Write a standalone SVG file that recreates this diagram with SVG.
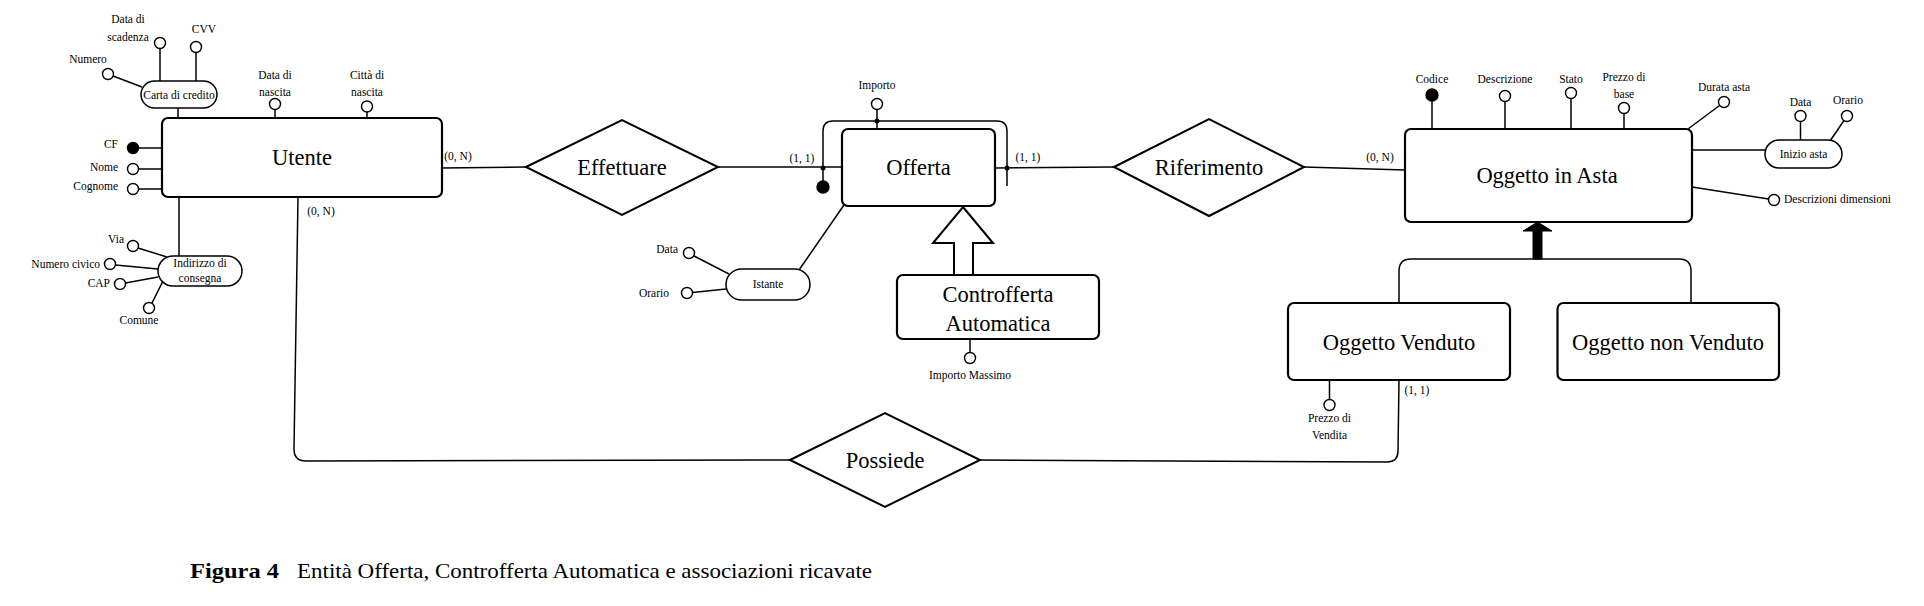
<svg xmlns="http://www.w3.org/2000/svg" width="1924" height="606" viewBox="0 0 1924 606">
<style>
text { font-family: "Liberation Serif", "Times New Roman", serif; fill: #000; }
.big { font-size: 22.5px; text-anchor: middle; dominant-baseline: central; }
.sm { font-size: 11.5px; dominant-baseline: central; }
.c { text-anchor: middle; }
.e { text-anchor: end; }
.ent { fill: #fff; stroke: #000; stroke-width: 2.2; }
.rel { fill: #fff; stroke: #000; stroke-width: 2; }
.att { fill: #fff; stroke: #000; stroke-width: 1.4; }
.key { fill: #000; stroke: #000; stroke-width: 1.4; }
.ln { fill: none; stroke: #000; stroke-width: 1.5; }
.pill { fill: #fff; stroke: #000; stroke-width: 1.5; }
.dot { fill: #000; }
</style>
<rect x="0" y="0" width="1924" height="606" fill="#fff"/>

<g id="connectors">
  <path class="ln" d="M442 168 L526 167"/>
  <path class="ln" d="M718 167 L842 167"/>
  <path class="ln" d="M995 168 L1114 167"/>
  <path class="ln" d="M1304 167 L1405 170"/>
  <path class="ln" d="M298 197 L294 449 Q294 461 306 461 L790 460"/>
  <path class="ln" d="M980 460 L1387 462 Q1398 462 1398 451 L1399 380"/>
  <path class="ln" d="M844 205 L799 270"/>
  <path class="ln" d="M823 181 L823 131 Q823 121 833 121 L997 121 Q1007 121 1007 131 L1007 186"/>
  <circle class="dot" cx="823" cy="168" r="2.5"/>
  <circle class="dot" cx="1007" cy="168" r="2.5"/>
  <circle class="dot" cx="877" cy="121" r="2.5"/>
  <path class="ln" d="M1399 303 L1399 271 Q1399 259 1411 259 L1679 259 Q1691 259 1691 271 L1691 303"/>
  <polygon points="1537.5,222 1552,231 1542,231 1542,259 1533,259 1533,231 1523,231" fill="#000" stroke="#000" stroke-width="1"/>
  <polygon points="963,207 993,243 973,243 973,275 954,275 954,243 933,243" fill="#fff" stroke="#000" stroke-width="2"/>
  <!-- attribute stems -->
  <path class="ln" d="M178 108 L178 118"/>
  <path class="ln" d="M179 197 L179 256"/>
  <path class="ln" d="M113 76 L142 87"/>
  <path class="ln" d="M160 48.5 L160 81"/>
  <path class="ln" d="M196 52.5 L196 81"/>
  <path class="ln" d="M275 109.5 L275 118"/>
  <path class="ln" d="M367 112 L367 118"/>
  <path class="ln" d="M139 148 L162 148"/>
  <path class="ln" d="M138.5 169 L162 169"/>
  <path class="ln" d="M138.5 189 L162 189"/>
  <path class="ln" d="M138 248 L167 257"/>
  <path class="ln" d="M115.5 265 L158 269"/>
  <path class="ln" d="M125.5 283 L158 277"/>
  <path class="ln" d="M152 303 L163 281"/>
  <path class="ln" d="M694 256 L729 274"/>
  <path class="ln" d="M692.5 292.5 L726 289"/>
  <path class="ln" d="M877 109.5 L877 129"/>
  <path class="ln" d="M970 339 L970 352.5"/>
  <path class="ln" d="M1432 101 L1432 129"/>
  <path class="ln" d="M1505 101.5 L1505 129"/>
  <path class="ln" d="M1571 98.5 L1571 129"/>
  <path class="ln" d="M1624 113.5 L1624 129"/>
  <path class="ln" d="M1688 129 L1719.5 105.5"/>
  <path class="ln" d="M1692 150 L1765 150"/>
  <path class="ln" d="M1800.5 121.5 L1800.5 140"/>
  <path class="ln" d="M1830 141 L1844 120.5"/>
  <path class="ln" d="M1692 187 L1768.5 199"/>
  <path class="ln" d="M1329.5 380 L1329.5 399.5"/>
</g>

<g id="utente">
  <rect class="ent" x="162" y="118" width="280" height="79" rx="6"/>
  <text class="big" x="302" y="157">Utente</text>
</g>
<g id="carta-di-credito">
  <rect class="pill" x="141" y="81" width="76" height="27" rx="13.5"/>
  <text class="sm c" x="179" y="95">Carta di credito</text>
</g>
<g id="attr-numero"><circle class="att" cx="108" cy="74" r="5.5"/><text class="sm c" x="88" y="59">Numero</text></g>
<g id="attr-data-scadenza"><circle class="att" cx="160" cy="43" r="5.5"/><text class="sm c" x="128" y="19">Data di</text><text class="sm c" x="128" y="37">scadenza</text></g>
<g id="attr-cvv"><circle class="att" cx="196" cy="47" r="5.5"/><text class="sm c" x="204" y="29">CVV</text></g>
<g id="attr-data-nascita"><circle class="att" cx="275" cy="104" r="5.5"/><text class="sm c" x="275" y="75">Data di</text><text class="sm c" x="275" y="92">nascita</text></g>
<g id="attr-citta-nascita"><circle class="att" cx="367" cy="106.5" r="5.5"/><text class="sm c" x="367" y="75">Città di</text><text class="sm c" x="367" y="92">nascita</text></g>
<g id="attr-cf"><circle class="key" cx="133" cy="148" r="5.5"/><text class="sm e" x="118" y="144">CF</text></g>
<g id="attr-nome"><circle class="att" cx="133" cy="169" r="5.5"/><text class="sm e" x="118" y="167">Nome</text></g>
<g id="attr-cognome"><circle class="att" cx="133" cy="189" r="5.5"/><text class="sm e" x="118" y="186">Cognome</text></g>
<g id="indirizzo-di-consegna">
  <rect class="pill" x="158" y="256" width="84" height="30" rx="15"/>
  <text class="sm c" x="200" y="263">Indirizzo di</text>
  <text class="sm c" x="200" y="278">consegna</text>
</g>
<g id="attr-via"><circle class="att" cx="133" cy="246" r="5.5"/><text class="sm e" x="124" y="239">Via</text></g>
<g id="attr-numero-civico"><circle class="att" cx="110" cy="264" r="5.5"/><text class="sm e" x="100" y="264">Numero civico</text></g>
<g id="attr-cap"><circle class="att" cx="120" cy="284" r="5.5"/><text class="sm e" x="110" y="283">CAP</text></g>
<g id="attr-comune"><circle class="att" cx="149" cy="308" r="5.5"/><text class="sm c" x="139" y="320">Comune</text></g>

<g id="card-utente-effettuare"><text class="sm c" x="458" y="156">(0, N)</text></g>
<g id="card-utente-possiede"><text class="sm c" x="321" y="211">(0, N)</text></g>

<g id="effettuare">
  <polygon class="rel" points="526,167 622,120 718,167 622,215"/>
  <text class="big" x="622" y="167">Effettuare</text>
</g>

<g id="offerta">
  <rect class="ent" x="842" y="129" width="153" height="77" rx="6"/>
  <text class="big" x="918.5" y="167">Offerta</text>
</g>
<g id="offerta-id"><circle class="key" cx="823" cy="187" r="6"/></g>
<g id="attr-importo"><circle class="att" cx="877" cy="104" r="5.5"/><text class="sm c" x="877" y="85">Importo</text></g>
<g id="card-offerta-effettuare"><text class="sm c" x="802" y="158">(1, 1)</text></g>
<g id="card-offerta-riferimento"><text class="sm c" x="1028" y="157">(1, 1)</text></g>

<g id="istante">
  <rect class="pill" x="726" y="269" width="84" height="31" rx="15.5"/>
  <text class="sm c" x="768" y="284">Istante</text>
</g>
<g id="attr-istante-data"><circle class="att" cx="689" cy="253" r="5.5"/><text class="sm e" x="678" y="249">Data</text></g>
<g id="attr-istante-orario"><circle class="att" cx="687" cy="293" r="5.5"/><text class="sm e" x="669" y="293">Orario</text></g>

<g id="controfferta-automatica">
  <rect class="ent" x="897" y="275" width="202" height="64" rx="6"/>
  <text class="big" x="998" y="294">Controfferta</text>
  <text class="big" x="998" y="323">Automatica</text>
</g>
<g id="attr-importo-massimo"><circle class="att" cx="970" cy="358" r="5.5"/><text class="sm c" x="970" y="375">Importo Massimo</text></g>

<g id="riferimento">
  <polygon class="rel" points="1114,167 1209,119 1304,167 1209,216"/>
  <text class="big" x="1209" y="167">Riferimento</text>
</g>
<g id="card-oggetto-riferimento"><text class="sm c" x="1380" y="157">(0, N)</text></g>

<g id="oggetto-in-asta">
  <rect class="ent" x="1405" y="129" width="287" height="93" rx="6"/>
  <text class="big" x="1547" y="175">Oggetto in Asta</text>
</g>
<g id="attr-codice"><circle class="key" cx="1432" cy="95" r="6"/><text class="sm c" x="1432" y="79">Codice</text></g>
<g id="attr-descrizione"><circle class="att" cx="1505" cy="96" r="5.5"/><text class="sm c" x="1505" y="79">Descrizione</text></g>
<g id="attr-stato"><circle class="att" cx="1571" cy="93" r="5.5"/><text class="sm c" x="1571" y="79">Stato</text></g>
<g id="attr-prezzo-base"><circle class="att" cx="1624" cy="108" r="5.5"/><text class="sm c" x="1624" y="77">Prezzo di</text><text class="sm c" x="1624" y="94">base</text></g>
<g id="attr-durata-asta"><circle class="att" cx="1724" cy="102" r="5.5"/><text class="sm c" x="1724" y="87">Durata asta</text></g>
<g id="inizio-asta">
  <rect class="pill" x="1765" y="140" width="77" height="28" rx="14"/>
  <text class="sm c" x="1803.5" y="154">Inizio asta</text>
</g>
<g id="attr-inizio-data"><circle class="att" cx="1800.5" cy="116" r="5.5"/><text class="sm c" x="1800.5" y="102">Data</text></g>
<g id="attr-inizio-orario"><circle class="att" cx="1847" cy="116" r="5.5"/><text class="sm c" x="1848" y="100">Orario</text></g>
<g id="attr-descrizioni-dimensioni"><circle class="att" cx="1774" cy="200" r="5.5"/><text class="sm" x="1784" y="199">Descrizioni dimensioni</text></g>

<g id="oggetto-venduto">
  <rect class="ent" x="1288" y="303" width="222" height="77" rx="6"/>
  <text class="big" x="1399" y="342">Oggetto Venduto</text>
</g>
<g id="attr-prezzo-vendita"><circle class="att" cx="1329.5" cy="405" r="5.5"/><text class="sm c" x="1329.5" y="418">Prezzo di</text><text class="sm c" x="1329.5" y="435">Vendita</text></g>
<g id="card-venduto-possiede"><text class="sm c" x="1417" y="390">(1, 1)</text></g>

<g id="oggetto-non-venduto">
  <rect class="ent" x="1557.5" y="303" width="221.5" height="77" rx="6"/>
  <text class="big" x="1668" y="342">Oggetto non Venduto</text>
</g>

<g id="possiede">
  <polygon class="rel" points="790,460 885,413 980,460 885,507"/>
  <text class="big" x="885" y="460">Possiede</text>
</g>

<g id="caption">
  <text x="190" y="578" font-size="22" font-weight="bold" textLength="89" lengthAdjust="spacingAndGlyphs">Figura 4</text>
  <text x="297" y="578" font-size="22" textLength="575" lengthAdjust="spacingAndGlyphs">Entità Offerta, Controfferta Automatica e associazioni ricavate</text>
</g>
</svg>
